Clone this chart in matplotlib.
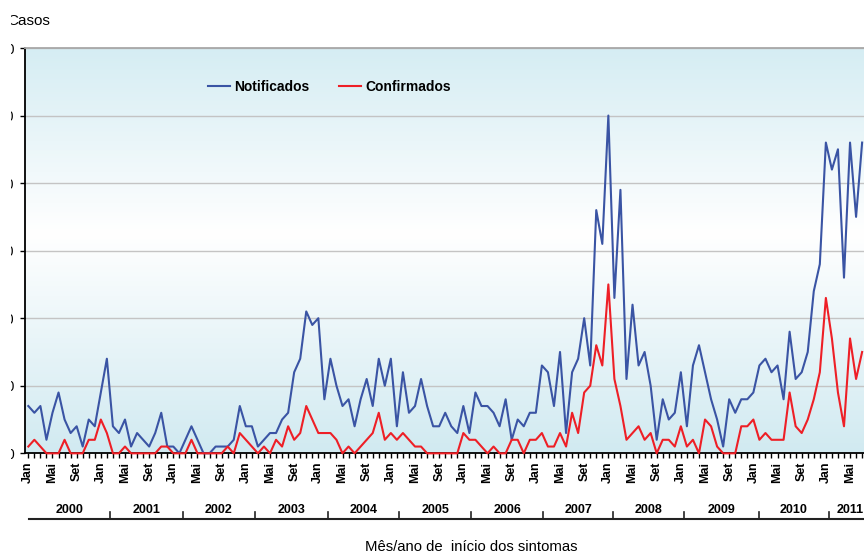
import numpy as np
import matplotlib
matplotlib.use("Agg")
import matplotlib.pyplot as plt
from matplotlib.patches import Rectangle
from matplotlib.transforms import blended_transform_factory

plt.rcParams['font.family'] = ['Liberation Sans', 'DejaVu Sans']

# casos por mes, jan/2000 a jul/2011
notificados = [7, 6, 7, 2, 6, 9, 5, 3, 4, 1, 5, 4,
               9, 14, 4, 3, 5, 1, 3, 2, 1, 3, 6, 1,
               1, 0, 2, 4, 2, 0, 0, 1, 1, 1, 2, 7,
               4, 4, 1, 2, 3, 3, 5, 6, 12, 14, 21, 19,
               20, 8, 14, 10, 7, 8, 4, 8, 11, 7, 14, 10,
               14, 4, 12, 6, 7, 11, 7, 4, 4, 6, 4, 3,
               7, 3, 9, 7, 7, 6, 4, 8, 2, 5, 4, 6,
               6, 13, 12, 7, 15, 3, 12, 14, 20, 13, 36, 31,
               50, 23, 39, 11, 22, 13, 15, 10, 2, 8, 5, 6,
               12, 4, 13, 16, 12, 8, 5, 1, 8, 6, 8, 8,
               9, 13, 14, 12, 13, 8, 18, 11, 12, 15, 24, 28,
               46, 42, 45, 26, 46, 35, 46]
confirmados = [1, 2, 1, 0, 0, 0, 2, 0, 0, 0, 2, 2,
               5, 3, 0, 0, 1, 0, 0, 0, 0, 0, 1, 1,
               0, 0, 0, 2, 0, 0, 0, 0, 0, 1, 0, 3,
               2, 1, 0, 1, 0, 2, 1, 4, 2, 3, 7, 5,
               3, 3, 3, 2, 0, 1, 0, 1, 2, 3, 6, 2,
               3, 2, 3, 2, 1, 1, 0, 0, 0, 0, 0, 0,
               3, 2, 2, 1, 0, 1, 0, 0, 2, 2, 0, 2,
               2, 3, 1, 1, 3, 1, 6, 3, 9, 10, 16, 13,
               25, 11, 7, 2, 3, 4, 2, 3, 0, 2, 2, 1,
               4, 1, 2, 0, 5, 4, 1, 0, 0, 0, 4, 4,
               5, 2, 3, 2, 2, 2, 9, 4, 3, 5, 8, 12,
               23, 17, 9, 4, 17, 11, 15]
meses = ['Jan', 'Fev', 'Mar', 'Abr', 'Mai', 'Jun',
         'Jul', 'Ago', 'Set', 'Out', 'Nov', 'Dez']
anos = ['2000', '2001', '2002', '2003', '2004', '2005',
        '2006', '2007', '2008', '2009', '2010', '2011']
y_ticks = [0, 10, 20, 30, 40, 50, 60]

W, H = 864, 555
fig = plt.figure(figsize=(W / 100, H / 100), dpi=100)

mes_px = 6.042          # largura de um mes em pixels
xmin, xmax = -0.5, 141.5
ax_left, ax_bottom, ax_top = 25.3, H - 453.3, H - 48
ax = fig.add_axes([ax_left / W, ax_bottom / H,
                   (xmax - xmin) * mes_px / W, (ax_top - ax_bottom) / H])

# fundo em degrade azul claro -> branco -> azul claro
t = np.linspace(0, 1, 300)
stops = [0, 0.46, 1]
top_c = (0.835, 0.929, 0.953)
bot_c = (0.820, 0.918, 0.945)
cols = np.stack([np.interp(t, stops, [top_c[k], 1.0, bot_c[k]]) for k in range(3)], axis=-1)
ax.imshow(cols[:, None, :], extent=[0, 1, 0, 1], transform=ax.transAxes,
          aspect='auto', zorder=0)

x = np.arange(len(notificados))
ax.plot(x, notificados, color='#3a54a4', lw=1.5, zorder=3, clip_on=False,
        label='Notificados')
ax.plot(x, confirmados, color='#ee1f26', lw=1.5, zorder=3, clip_on=False,
        label='Confirmados')

ax.set_xlim(xmin, xmax)
ax.set_ylim(0, 60)
ax.set_yticks(y_ticks)
ax.set_yticklabels([str(v) for v in y_ticks])
ax.yaxis.grid(True, color='#c4c4c4', lw=1)
ax.set_axisbelow(True)

for s in ['left', 'bottom']:
    ax.spines[s].set_color('black')
    ax.spines[s].set_linewidth(1.3)
ax.spines['top'].set_color('#a8a8a8')
ax.spines['top'].set_linewidth(1.3)
ax.spines['right'].set_visible(False)

lab_pos = list(range(0, len(notificados), 4))
ax.set_xticks(lab_pos)
ax.set_xticklabels([meses[i % 12] for i in lab_pos], rotation=90,
                   fontsize=9, fontweight='bold')
ax.set_xticks(np.arange(0, 142), minor=True)
ax.tick_params(axis='x', which='both', direction='out', length=3.5, width=1, pad=2.7)
ax.tick_params(axis='y', direction='out', length=3.6, width=1, pad=4.3, labelsize=10)

# linha dos anos abaixo dos meses
trans = blended_transform_factory(ax.transData, fig.transFigure)
y_line = 1 - 519 / H
y_sep = 1 - 512 / H
limites = [0.1, 13.5, 25.6, 37.5, 49.6, 61.4, 73.3, 85.2, 96.8, 108.5, 120.9, 132.5, 139.5]
ax.plot([0.1, xmax], [y_line, y_line], transform=trans, color='#222222',
        lw=1.5, clip_on=False)
for b in limites[1:-1]:
    ax.plot([b, b], [y_line, y_sep], transform=trans, color='#222222',
            lw=1.2, clip_on=False)
for k, ano in enumerate(anos):
    xc = (limites[k] + limites[k + 1]) / 2
    ax.text(xc, 1 - 510 / H, ano, transform=trans, ha='center', va='center',
            fontsize=9, fontweight='bold', clip_on=False)

fig.text(471 / W, 1 - 547 / H, 'Mês/ano de  início dos sintomas',
         ha='center', va='center', fontsize=10.7)
fig.text(7 / W, 1 - 21 / H, 'Casos', ha='left', va='center', fontsize=11)

ax.legend(loc='center left', bbox_to_anchor=(208 / W, 1 - 87 / H),
          bbox_transform=fig.transFigure, ncol=2, frameon=False,
          borderpad=0, borderaxespad=0, handlelength=1.6, handletextpad=0.3,
          columnspacing=2.1, prop={'weight': 'bold', 'size': 10})

# faixa branca na borda esquerda
fig.add_artist(Rectangle((0, 0), 11 / W, 1, transform=fig.transFigure,
                         facecolor='white', edgecolor='none', zorder=10))

fig.savefig('out.png', dpi=100)
